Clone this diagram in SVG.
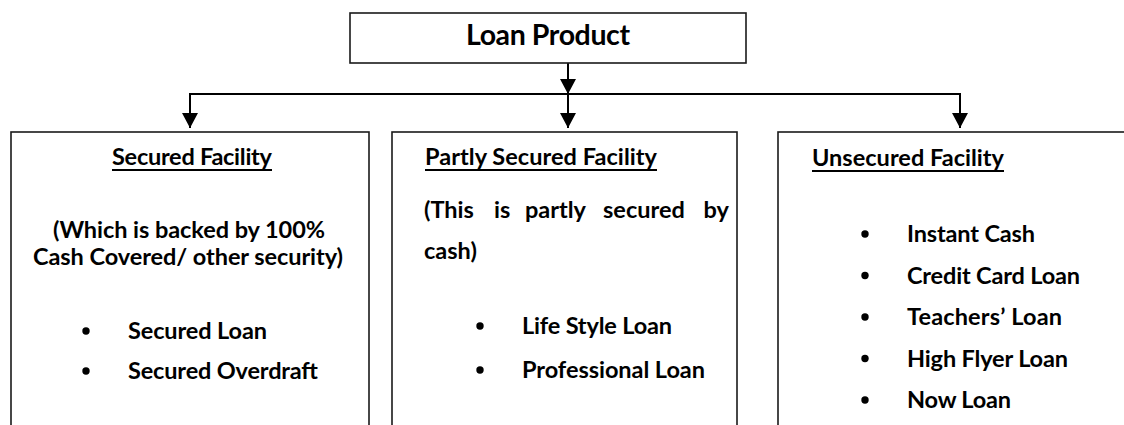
<svg xmlns="http://www.w3.org/2000/svg" width="1124" height="425" viewBox="0 0 1124 425">
  <style>
    .box { fill: #ffffff; stroke: #1a1a1a; stroke-width: 1.6; }
    .txt { font-family: Lato, "Liberation Sans", sans-serif; font-weight: bold; font-size: 23.5px; fill: #000000; }
    .big { font-size: 28.5px; }
    .conn { stroke: #000000; stroke-width: 2; fill: none; }
    .ul { stroke: #000000; stroke-width: 1.8; }
    .dot { fill: #000000; }
  </style>
  <defs>
    <marker id="arrow" markerUnits="userSpaceOnUse" markerWidth="16" markerHeight="16" refX="15" refY="8" orient="auto">
      <path d="M0,0 L15,8 L0,16 z" fill="#000000"/>
    </marker>
  </defs>

  <g id="connectors">
    <line class="conn" x1="568" y1="63" x2="568" y2="94" marker-end="url(#arrow)"/>
    <line class="conn" x1="189" y1="94" x2="961" y2="94"/>
    <line class="conn" x1="190" y1="94" x2="190" y2="128" marker-end="url(#arrow)"/>
    <line class="conn" x1="568" y1="94" x2="568" y2="128" marker-end="url(#arrow)"/>
    <line class="conn" x1="960" y1="94" x2="960" y2="128" marker-end="url(#arrow)"/>
  </g>

  <g id="loan-product">
    <rect class="box" x="350" y="13" width="396" height="50"/>
    <text class="txt big" x="548" y="45" text-anchor="middle" textLength="164" lengthAdjust="spacing">Loan Product</text>
  </g>

  <g id="secured-facility">
    <rect class="box" x="11" y="132" width="358" height="320"/>
    <text class="txt" x="112" y="165" textLength="160" lengthAdjust="spacing">Secured Facility</text>
    <line class="ul" x1="112" y1="170" x2="272" y2="170"/>
    <text class="txt" x="189" y="238" text-anchor="middle" textLength="272" lengthAdjust="spacing">(Which is backed by 100%</text>
    <text class="txt" x="188" y="265" text-anchor="middle" textLength="310" lengthAdjust="spacing">Cash Covered/ other security)</text>
    <circle class="dot" cx="86" cy="331" r="3.7"/>
    <text class="txt" x="128" y="339" textLength="139" lengthAdjust="spacing">Secured Loan</text>
    <circle class="dot" cx="86" cy="371" r="3.7"/>
    <text class="txt" x="128" y="379" textLength="190" lengthAdjust="spacing">Secured Overdraft</text>
  </g>

  <g id="partly-secured-facility">
    <rect class="box" x="392" y="132" width="345" height="320"/>
    <text class="txt" x="425" y="165" textLength="232" lengthAdjust="spacing">Partly Secured Facility</text>
    <line class="ul" x1="425" y1="170" x2="657" y2="170"/>
    <text class="txt" y="218"><tspan x="424">(This</tspan><tspan x="494">is</tspan><tspan x="525">partly</tspan><tspan x="603">secured</tspan></text>
    <text class="txt" x="729" y="218" text-anchor="end">by</text>
    <text class="txt" x="424" y="259">cash)</text>
    <circle class="dot" cx="480" cy="326" r="3.7"/>
    <text class="txt" x="522" y="334" textLength="150" lengthAdjust="spacing">Life Style Loan</text>
    <circle class="dot" cx="480" cy="370" r="3.7"/>
    <text class="txt" x="522" y="378" textLength="183" lengthAdjust="spacing">Professional Loan</text>
  </g>

  <g id="unsecured-facility">
    <rect class="box" x="778" y="132" width="400" height="320"/>
    <text class="txt" x="812" y="166" textLength="192" lengthAdjust="spacing">Unsecured Facility</text>
    <line class="ul" x1="812" y1="171" x2="1004" y2="171"/>
    <circle class="dot" cx="865" cy="234" r="3.7"/>
    <text class="txt" x="907" y="242" textLength="128" lengthAdjust="spacing">Instant Cash</text>
    <circle class="dot" cx="865" cy="275.5" r="3.7"/>
    <text class="txt" x="907" y="283.5" textLength="173" lengthAdjust="spacing">Credit Card Loan</text>
    <circle class="dot" cx="865" cy="317" r="3.7"/>
    <text class="txt" x="907" y="325" textLength="155" lengthAdjust="spacing">Teachers’ Loan</text>
    <circle class="dot" cx="865" cy="358.5" r="3.7"/>
    <text class="txt" x="907" y="366.5" textLength="161" lengthAdjust="spacing">High Flyer Loan</text>
    <circle class="dot" cx="865" cy="400" r="3.7"/>
    <text class="txt" x="907" y="408" textLength="104" lengthAdjust="spacing">Now Loan</text>
  </g>
</svg>
